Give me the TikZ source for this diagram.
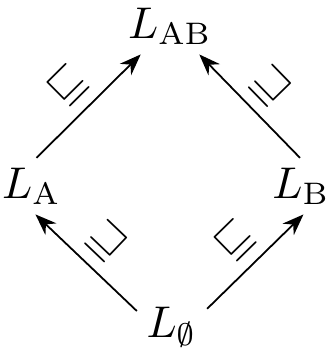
\documentclass[tikz,border=0pt]{standalone}
\usepackage{amssymb}
\usetikzlibrary{arrows.meta}
\begin{document}
\begin{tikzpicture}[x=0.225pt, y=0.225pt,
  lattice/.style={anchor=base, inner sep=2pt},
  order/.style={-{Stealth}},
  rel/.style={sloped, above, inner sep=2.5pt}]
  \useasboundingbox (0,0) rectangle (327,350);
  % lattice elements
  \node[lattice] (AB) at (170,312) {$L_{\mathrm{AB}}$};
  \node[lattice] (A)  at (31.5,152) {$L_{\mathrm{A}}$};
  \node[lattice] (B)  at (301,152) {$L_{\mathrm{B}}$};
  \node[lattice] (E)  at (172,13) {$L_{\emptyset}$};
  % ordering arrows
  \draw[order] (A.80)  -- node[rel] {$\sqsubseteq$} (AB.-136);
  \draw[order] (B.92)  -- node[rel] {$\sqsupseteq$} (AB.-44);
  \draw[order] (E.156) -- node[rel] {$\sqsupseteq$} (A.-82);
  \draw[order] (E.27)  -- node[rel] {$\sqsubseteq$} (B.-85);
\end{tikzpicture}
\end{document}
